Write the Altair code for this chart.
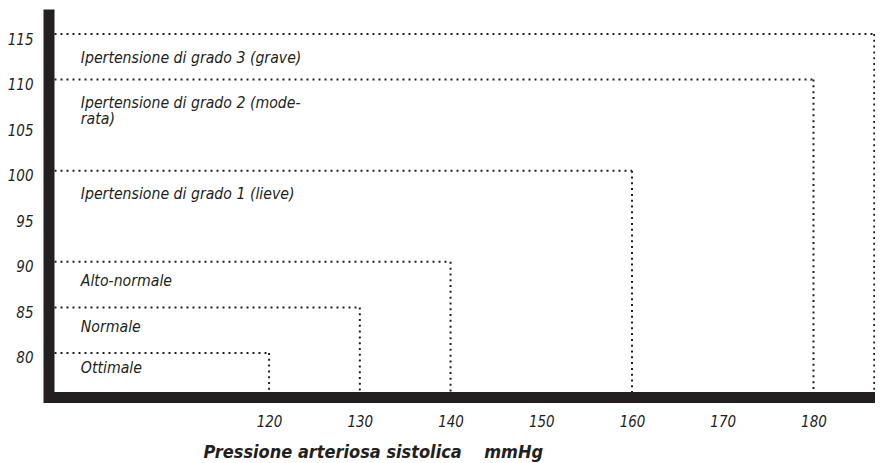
import altair as alt
import pandas as pd

categories = [
    "Ottimale",
    "Normale",
    "Alto-normale",
    "Ipertensione di grado 1 (lieve)",
    "Ipertensione di grado 2 (mode-\nrata)",
    "Ipertensione di grado 3 (grave)",
]
systolic = [120, 130, 140, 160, 180, 186.7]
diastolic = [80, 85, 90, 100, 110, 115]
label_y = [77.8, 82.3, 87.3, 96.9, 106.9, 111.8]

x_ticks = [120, 130, 140, 150, 160, 170, 180]
y_ticks = [80, 85, 90, 95, 100, 105, 110, 115]

X_MIN, X_MAX = 95.69, 186.78
Y_MIN, Y_MAX = 75.17, 117.14
LABEL_X = 99.25

FONT = "Liberation Sans Narrow, DejaVu Sans Condensed, Roboto, sans-serif"
INK = "#231f20"

df = pd.DataFrame({
    "cat": categories,
    "sys": systolic,
    "dia": diastolic,
    "ly": label_y,
    "x0": [X_MIN] * len(categories),
    "y0": [Y_MIN] * len(categories),
    "lx": [LABEL_X] * len(categories),
})

xs = alt.Scale(domain=[X_MIN, X_MAX], nice=False, zero=False)
ys = alt.Scale(domain=[Y_MIN, Y_MAX], nice=False, zero=False)

xaxis = alt.Axis(
    values=x_ticks, grid=False, ticks=False, tickSize=0,
    domainWidth=11, domainColor=INK, domainCap="butt",
    labelFont=FONT, labelFontStyle="italic", labelFontSize=15, labelColor=INK,
    labelBaseline="middle", labelPadding=24,
    title="Pressione arteriosa sistolica\u00a0\u00a0\u00a0\u00a0mmHg",
    titleFont=FONT, titleFontStyle="italic", titleFontWeight="bold",
    titleFontSize=18, titleColor=INK, titleAlign="left", titleBaseline="middle",
    titleX=154.5, titleY=55, titleAnchor="start", zindex=1,
)
yaxis = alt.Axis(
    values=y_ticks, grid=False, ticks=False, tickSize=0,
    domainWidth=11, domainColor=INK, domainCap="square",
    labelFont=FONT, labelFontStyle="italic", labelFontSize=15, labelColor=INK,
    labelBaseline="middle", labelPadding=15.5, labelOffset=5, title=None, zindex=2,
)

hlines = alt.Chart(df).mark_rule(
    color=INK, strokeWidth=2, strokeDash=[2, 4]
).encode(
    x=alt.X("x0:Q", scale=xs, axis=xaxis),
    x2="sys:Q",
    y=alt.Y("dia:Q", scale=ys, axis=yaxis),
)

vlines = alt.Chart(df).mark_rule(
    color=INK, strokeWidth=2, strokeDash=[2, 3.8]
).encode(
    x=alt.X("sys:Q", scale=xs),
    y=alt.Y("dia:Q", scale=ys),
    y2="y0:Q",
)

labels = alt.Chart(df).mark_text(
    align="left", baseline="alphabetic", font=FONT, fontStyle="italic",
    fontSize=15.7, color=INK, lineBreak="\n", lineHeight=16,
).encode(
    x=alt.X("lx:Q", scale=xs),
    y=alt.Y("ly:Q", scale=ys),
    text="cat:N",
)

chart = alt.layer(hlines, vlines, labels).properties(
    width=826.5, height=382.5,
    autosize=alt.AutoSizeParams(type="none"),
    padding={"left": 40.5, "top": 6.5, "right": 0, "bottom": 66},
).configure_view(stroke=None)

chart.save("out.html", embed_options={"renderer": "svg", "actions": False})
